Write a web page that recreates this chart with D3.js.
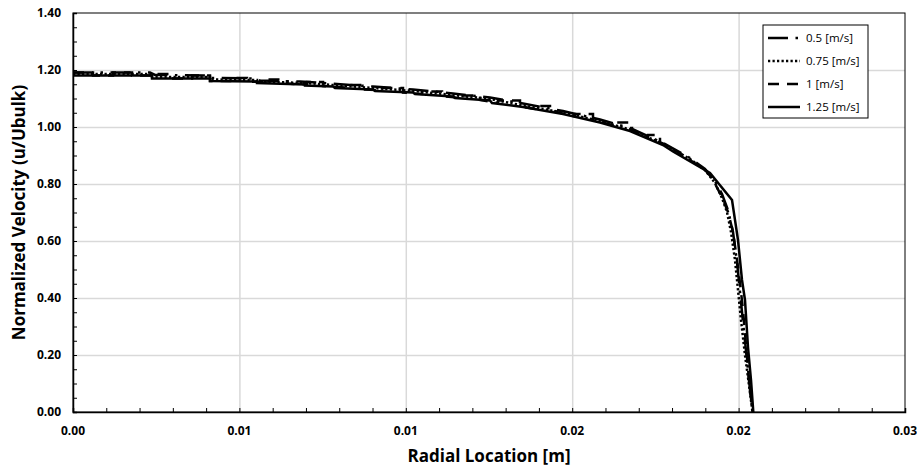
<!DOCTYPE html>
<html>
<head>
<meta charset="utf-8">
<script src="https://cdn.jsdelivr.net/npm/d3@7"></script>
<style>
  body { margin: 0; background: #fff; }
  text { font-family: "Open Sans", "Noto Sans", sans-serif; fill: #000; }
</style>
</head>
<body>
<script>
// velocity profiles, [radial location (m), u/Ubulk]
const v050 = [
  [0, 1.1912], [0.002314, 1.1912], [0.002464, 1.1825], [0.004056, 1.1807], [0.004177, 1.1719],
  [0.005469, 1.1702], [0.005619, 1.1632], [0.006821, 1.1596], [0.007722, 1.1526], [0.009014, 1.1421],
  [0.010216, 1.1316], [0.011418, 1.1175], [0.012530, 1.1035], [0.013522, 1.0825], [0.014724, 1.0561],
  [0.015835, 1.0263], [0.016737, 0.9965], [0.017728, 0.9439], [0.018540, 0.8912], [0.018990, 0.8526],
  [0.019291, 0.8105], [0.019501, 0.7649], [0.019681, 0.7088], [0.019832, 0.6316], [0.019952, 0.5263],
  [0.020042, 0.4211], [0.020132, 0.3158], [0.020252, 0.1825], [0.020343, 0.0772], [0.020418, 0]
]

const v075 = [
  [0, 1.1860], [0.002374, 1.1860], [0.002374, 1.1754], [0.004117, 1.1754], [0.004117, 1.1667],
  [0.005529, 1.1649], [0.005529, 1.1596], [0.006971, 1.1544], [0.007813, 1.1474], [0.009014, 1.1368],
  [0.010216, 1.1263], [0.011418, 1.1123], [0.012530, 1.0982], [0.013522, 1.0754], [0.014724, 1.0509],
  [0.015835, 1.0211], [0.016737, 0.9912], [0.017728, 0.9404], [0.018540, 0.8877], [0.018990, 0.8491],
  [0.019291, 0.8035], [0.019501, 0.7509], [0.019651, 0.7018], [0.019772, 0.6316], [0.019892, 0.5333],
  [0.019982, 0.4281], [0.020072, 0.3228], [0.020192, 0.2000], [0.020312, 0.0947], [0.020418, 0]
]

const v100 = [
  [0, 1.1912], [0.000601, 1.1912], [0.000601, 1.1807], [0.001202, 1.1807], [0.001202, 1.1912],
  [0.001773, 1.1912], [0.001773, 1.1807], [0.002404, 1.1807], [0.002404, 1.1860], [0.002915, 1.1860],
  [0.002915, 1.1702], [0.003576, 1.1702], [0.003576, 1.1807], [0.004117, 1.1807], [0.004117, 1.1614],
  [0.004718, 1.1614], [0.004718, 1.1719], [0.005228, 1.1719], [0.005228, 1.1596], [0.005859, 1.1579],
  [0.005859, 1.1667], [0.006430, 1.1667], [0.006430, 1.1526], [0.007031, 1.1491], [0.007031, 1.1579],
  [0.007512, 1.1579], [0.007512, 1.1439], [0.008173, 1.1386], [0.008173, 1.1474], [0.008774, 1.1474],
  [0.008774, 1.1316], [0.009315, 1.1281], [0.009315, 1.1368], [0.009916, 1.1368], [0.009916, 1.1211],
  [0.010487, 1.1158], [0.010487, 1.1246], [0.011088, 1.1246], [0.011088, 1.1088], [0.011629, 1.1018],
  [0.011629, 1.1105], [0.012230, 1.1105], [0.012230, 1.0947], [0.012770, 1.0842], [0.012770, 1.0930],
  [0.013431, 1.0930], [0.013431, 1.0719], [0.013972, 1.0614], [0.013972, 1.0737], [0.014483, 1.0737],
  [0.014483, 1.0544], [0.015084, 1.0368], [0.015084, 1.0456], [0.015625, 1.0456], [0.015625, 1.0263],
  [0.016226, 1.0053], [0.016226, 1.0158], [0.016797, 1.0158], [0.016797, 0.9860], [0.017278, 0.9649],
  [0.017278, 0.9719], [0.017638, 0.9719], [0.017638, 0.9474], [0.018029, 0.9228], [0.018540, 0.8842],
  [0.018990, 0.8491], [0.019201, 0.8211], [0.019501, 0.7544], [0.019681, 0.7018], [0.019832, 0.6316],
  [0.019952, 0.5333], [0.020042, 0.4526], [0.020132, 0.3579], [0.020222, 0.2351], [0.020312, 0.1123],
  [0.020418, 0]
]

const v125 = [
  [0, 1.1807], [0.002374, 1.1807], [0.002374, 1.1702], [0.004117, 1.1702], [0.004117, 1.1614],
  [0.005529, 1.1596], [0.005529, 1.1544], [0.006971, 1.1491], [0.006971, 1.1456], [0.007813, 1.1421],
  [0.007873, 1.1368], [0.009014, 1.1316], [0.009075, 1.1263], [0.010216, 1.1211], [0.010276, 1.1158],
  [0.011418, 1.1070], [0.011478, 1.1018], [0.012530, 1.0930], [0.012590, 1.0842], [0.013522, 1.0702],
  [0.014724, 1.0456], [0.015835, 1.0158], [0.016737, 0.9860], [0.017728, 0.9368], [0.018029, 0.9140],
  [0.019141, 0.8386], [0.019802, 0.7439], [0.019982, 0.6035], [0.020102, 0.4632], [0.020192, 0.3930],
  [0.020282, 0.2281], [0.020373, 0.1123], [0.020442, 0]
]

const seriesNames = ["0.5 [m/s]", "0.75 [m/s]", "1 [m/s]", "1.25 [m/s]"]
const seriesData = [v050, v075, v100, v125]
const seriesDash = ["20,7.5,2.5,7.5", "2.25,2.25", "11,8", null]

const xTicks = [0, 0.005, 0.01, 0.015, 0.02, 0.025]
const xTickLabels = ["0.00", "0.01", "0.01", "0.02", "0.02", "0.03"]
const yTicks = [0, 0.2, 0.4, 0.6, 0.8, 1.0, 1.2, 1.4]
const yTickLabels = ["0.00", "0.20", "0.40", "0.60", "0.80", "1.00", "1.20", "1.40"]

const m = { width: 917, height: 468, left: 73, right: 905, top: 13, bottom: 412 }

const svg = d3.select("body").append("svg")
    .attr("width", m.width)
    .attr("height", m.height)

const x = d3.scaleLinear().domain([0, 0.025]).range([m.left, m.right])
const y = d3.scaleLinear().domain([0, 1.4]).range([m.bottom, m.top])

// gridlines
svg.append("g")
  .attr("transform", `translate(0,${m.bottom})`)
  .call(d3.axisBottom(x).tickValues(xTicks.slice(1, -1)).tickSize(-(m.bottom - m.top)).tickFormat(""))
  .call(g => g.select(".domain").remove())
  .selectAll("line").attr("stroke", "#d9d9d9").attr("stroke-width", 1.5)

svg.append("g")
  .attr("transform", `translate(${m.left},0)`)
  .call(d3.axisLeft(y).tickValues(yTicks.slice(1, -1)).tickSize(-(m.right - m.left)).tickFormat(""))
  .call(g => g.select(".domain").remove())
  .selectAll("line").attr("stroke", "#d9d9d9").attr("stroke-width", 1.5)

// plot border
svg.append("rect")
  .attr("x", m.left).attr("y", m.top)
  .attr("width", m.right - m.left).attr("height", m.bottom - m.top)
  .attr("fill", "none").attr("stroke", "#000").attr("stroke-width", 1)

// minor ticks, drawn inside the plot
svg.append("g")
  .attr("transform", `translate(0,${m.bottom})`)
  .call(d3.axisTop(x).ticks(25).tickSize(4).tickFormat(""))
  .call(g => g.select(".domain").attr("stroke-width", 1.5))
  .selectAll("line").attr("stroke-width", 1)

svg.append("g")
  .attr("transform", `translate(${m.left},0)`)
  .call(d3.axisRight(y).ticks(35).tickSize(4).tickFormat(""))
  .call(g => g.select(".domain").attr("stroke-width", 1.5))
  .selectAll("line").attr("stroke-width", 1)

// tick labels
svg.append("g").selectAll("text")
  .data(xTicks)
  .enter().append("text")
    .attr("x", d => x(d))
    .attr("y", 435)
    .attr("text-anchor", "middle")
    .style("font-size", "12px").style("font-weight", "bold")
    .text((d, i) => xTickLabels[i])

svg.append("g").selectAll("text")
  .data(yTicks)
  .enter().append("text")
    .attr("x", 61)
    .attr("y", d => y(d) + 4)
    .attr("text-anchor", "end")
    .style("font-size", "12px").style("font-weight", "bold")
    .text((d, i) => yTickLabels[i])

// axis titles
svg.append("text")
  .attr("x", (m.left + m.right) / 2)
  .attr("y", 462)
  .attr("text-anchor", "middle")
  .style("font-size", "17px").style("font-weight", "bold")
  .text("Radial Location [m]")

svg.append("text")
  .attr("transform", `translate(25,${(m.top + m.bottom) / 2}) rotate(-90)`)
  .attr("text-anchor", "middle")
  .style("font-size", "17px").style("font-weight", "bold")
  .text("Normalized Velocity (u/Ubulk)")

// series
const line = d3.line()
  .x(d => x(d[0]))
  .y(d => y(d[1]))

svg.append("g").selectAll("path")
  .data(seriesData)
  .enter().append("path")
    .attr("d", line)
    .attr("fill", "none")
    .attr("stroke", "#000")
    .attr("stroke-width", 2.5)
    .attr("stroke-dasharray", (d, i) => seriesDash[i])

// legend
const legend = svg.append("g")

legend.append("rect")
  .attr("x", 763).attr("y", 25)
  .attr("width", 105).attr("height", 93)
  .attr("fill", "#fff").attr("stroke", "#000").attr("stroke-width", 1)

const item = legend.selectAll(".item")
  .data(seriesNames)
  .enter().append("g")
    .attr("transform", (d, i) => `translate(0,${38 + i * 23})`)

item.append("line")
  .attr("x1", 768).attr("x2", 800)
  .attr("stroke", "#000").attr("stroke-width", 2.5)
  .attr("stroke-dasharray", (d, i) => seriesDash[i])

item.append("text")
  .attr("x", 806).attr("y", 4)
  .style("font-size", "11.5px")
  .text(d => d)
</script>
</body>
</html>
